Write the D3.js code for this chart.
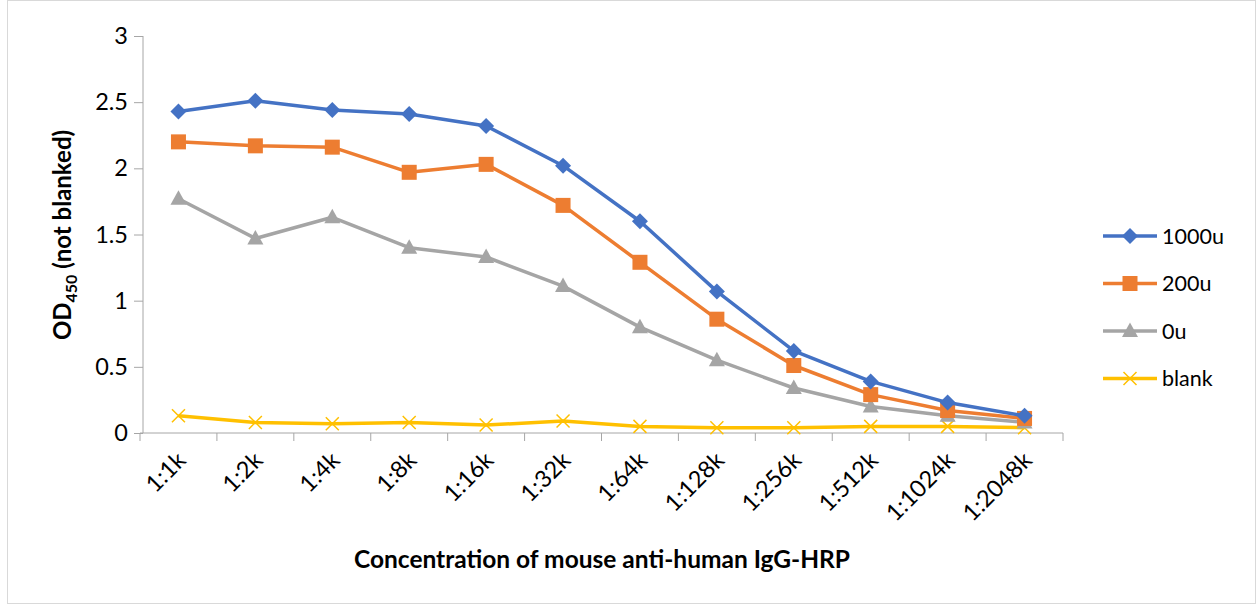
<!DOCTYPE html>
<html><head><meta charset="utf-8">
<script src="https://cdn.jsdelivr.net/npm/d3@7"></script>
<style>body{margin:0;background:#fff}svg{display:block;font-family:Lato,"Open Sans",sans-serif}</style>
</head><body><svg id="c" width="1258" height="605"></svg>
<script>
const categories = ["1:1k","1:2k","1:4k","1:8k","1:16k","1:32k","1:64k","1:128k","1:256k","1:512k","1:1024k","1:2048k"];
const s1000u = [2.43,2.51,2.44,2.41,2.32,2.02,1.60,1.07,0.62,0.39,0.23,0.13];
const s200u  = [2.20,2.17,2.16,1.97,2.03,1.72,1.29,0.86,0.51,0.29,0.17,0.11];
const s0u    = [1.77,1.47,1.63,1.40,1.33,1.11,0.80,0.55,0.34,0.20,0.13,0.08];
const sBlank = [0.13,0.08,0.07,0.08,0.06,0.09,0.05,0.04,0.04,0.05,0.05,0.04];
const seriesNames = ["1000u","200u","0u","blank"];
const yTicks = [0,0.5,1,1.5,2,2.5,3];

const series = [
  {name:seriesNames[0], values:s1000u, color:"#4472C4", marker:"diamond"},
  {name:seriesNames[1], values:s200u,  color:"#ED7D31", marker:"square"},
  {name:seriesNames[2], values:s0u,    color:"#A5A5A5", marker:"triangle"},
  {name:seriesNames[3], values:sBlank, color:"#FFC000", marker:"x"}
];

const svg = d3.select("#c");
svg.append("rect").attr("x",7.5).attr("y",0.5).attr("width",1248).attr("height",603)
  .attr("fill","#fff").attr("stroke","#d9d9d9");

const x = d3.scaleBand().domain(categories).range([140,1063]);
const y = d3.scaleLinear().domain([0,3]).range([433,36]);

const axisColor = "#a6a6a6";
const yAxis = svg.append("g").attr("transform","translate(143,0)")
  .call(d3.axisLeft(y).tickValues(yTicks).tickSize(9).tickPadding(6).tickFormat(d3.format("")));
yAxis.selectAll("path,line").attr("stroke",axisColor);
yAxis.select(".domain").attr("d","M0,36V433");
yAxis.selectAll("text").attr("font-size",23.5).attr("fill","#000").attr("font-family","Lato,'Open Sans',sans-serif");

const xAxis = svg.append("g").attr("transform","translate(0,433)")
  .call(d3.axisBottom(x).tickSize(0).tickFormat(""));
xAxis.select(".domain").attr("stroke",axisColor).attr("d","M140,0H1063");
const bounds = categories.map(c=>x(c)).concat([x.range()[1]]);
svg.append("g").selectAll("line").data(bounds).join("line")
  .attr("x1",d=>d).attr("x2",d=>d).attr("y1",433).attr("y2",441).attr("stroke",axisColor);

svg.append("g").selectAll("text").data(categories).join("text")
  .attr("transform",d=>`translate(${x(d)+x.bandwidth()/2+3},${456}) rotate(-45)`)
  .attr("text-anchor","end").attr("font-size",23.5).attr("dy","0.35em").text(d=>d);

const line = d3.line().x((d,i)=>x(categories[i])+x.bandwidth()/2).y(d=>y(d));
function marker(g, type, color, cx, cy){
  if(type==="diamond"){
    g.append("path").attr("d",`M${cx},${cy-8}L${cx+8},${cy}L${cx},${cy+8}L${cx-8},${cy}Z`).attr("fill",color);
  } else if(type==="square"){
    g.append("rect").attr("x",cx-7.5).attr("y",cy-7.5).attr("width",15).attr("height",15).attr("fill",color);
  } else if(type==="triangle"){
    g.append("path").attr("d",`M${cx},${cy-8.5}L${cx+8},${cy+6}L${cx-8},${cy+6}Z`).attr("fill",color);
  } else {
    g.append("path").attr("d",`M${cx-6.5},${cy-6.5}L${cx+6.5},${cy+6.5}M${cx-6.5},${cy+6.5}L${cx+6.5},${cy-6.5}`).attr("stroke",color).attr("stroke-width",1.5);
  }
}
[...series].reverse().forEach(s=>{
  const g = svg.append("g");
  g.append("path").datum(s.values).attr("d",line).attr("fill","none").attr("stroke",s.color).attr("stroke-width",3.5).attr("stroke-linejoin","round");
  s.values.forEach((v,i)=>marker(g,s.marker,s.color,x(categories[i])+x.bandwidth()/2,y(v)));
});

const lg = svg.append("g");
series.forEach((s,i)=>{
  const cy = 236 + i*47.5;
  lg.append("line").attr("x1",1103).attr("x2",1157).attr("y1",cy).attr("y2",cy).attr("stroke",s.color).attr("stroke-width",3.5);
  marker(lg,s.marker,s.color,1130,cy);
  lg.append("text").attr("x",1162).attr("y",cy).attr("dy","0.35em").attr("font-size",21.5).text(s.name);
});

const yt = svg.append("text").attr("transform","translate(71,235) rotate(-90)")
  .attr("text-anchor","middle").attr("font-size",24).attr("font-weight","bold");
yt.append("tspan").text("OD");
yt.append("tspan").attr("font-size",16).attr("dy",6).text("450");
yt.append("tspan").attr("dy",-6).text(" (not blanked)");

svg.append("text").attr("x",602).attr("y",568).attr("text-anchor","middle")
  .attr("font-size",24.5).attr("font-weight","bold").text("Concentration of mouse anti-human IgG-HRP");
</script></body></html>
